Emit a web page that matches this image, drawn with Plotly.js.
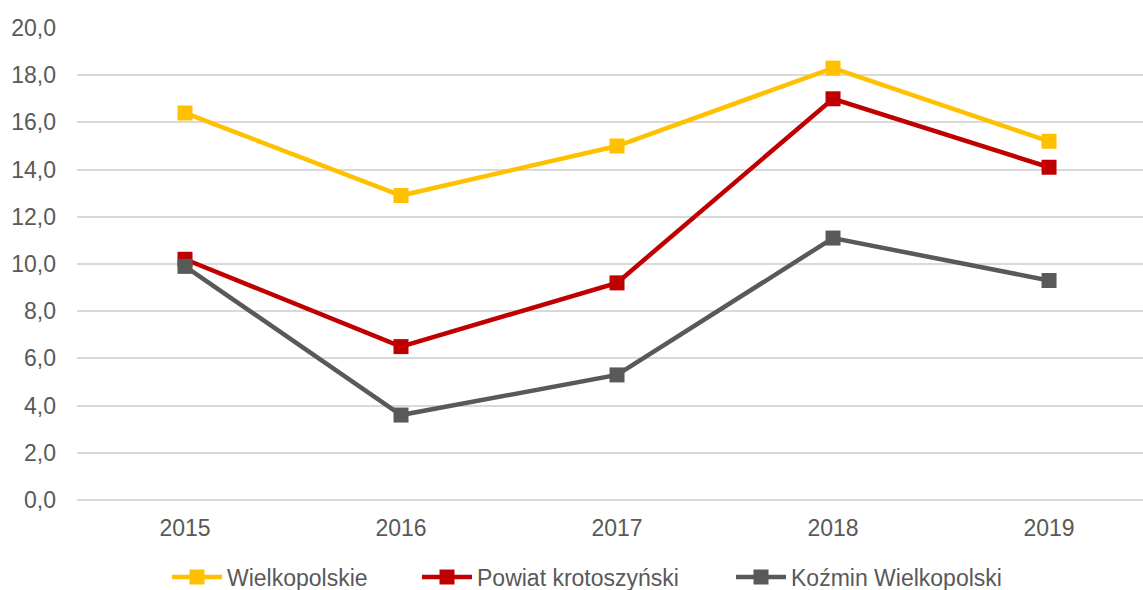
<!DOCTYPE html>
<html>
<head>
<meta charset="utf-8">
<script src="https://cdn.plot.ly/plotly-3.0.1.min.js"></script>
<style>html,body{margin:0;padding:0;overflow:hidden;background:#fff;}</style>
</head>
<body>
<div id="chart" style="width:1143px;height:590px;"></div>
<script>
const years = ["2015", "2016", "2017", "2018", "2019"];
const wielkopolskie = [16.4, 12.9, 15.0, 18.3, 15.2];
const powiat = [10.2, 6.5, 9.2, 17.0, 14.1];
const kozmin = [9.9, 3.6, 5.3, 11.1, 9.3];
const seriesNames = ["Wielkopolskie", "Powiat krotoszyński", "Koźmin Wielkopolski"];
const colors = ["#FFC000", "#C00000", "#595959"];
const values = [wielkopolskie, powiat, kozmin];
const legendIds = ["legend", "legend2", "legend3"];

const traces = values.map((v, i) => ({
  x: years, y: v, name: seriesNames[i], type: "scatter", mode: "lines+markers",
  line: {color: colors[i], width: 4.5},
  marker: {symbol: "square", size: 15, color: colors[i]},
  legend: legendIds[i],
  hoverinfo: "skip"
}));

function legendAt(px) {
  return {
    orientation: "h", xref: "container", yref: "container",
    x: px / 1143, xanchor: "left", y: 0.022, yanchor: "middle",
    font: {size: 23, color: "#595959"}, itemwidth: 50, bgcolor: "rgba(0,0,0,0)"
  };
}

const layout = {
  width: 1143, height: 590,
  margin: {l: 77, r: 0, t: 28, b: 90},
  paper_bgcolor: "#fff", plot_bgcolor: "#fff",
  separators: ",.",
  font: {family: "Liberation Sans, Arial, sans-serif", size: 23, color: "#595959"},
  xaxis: {
    type: "category", range: [-0.5, 4.435],
    showgrid: false, zeroline: false, showline: false,
    ticks: "", ticklabelstandoff: 12, tickfont: {size: 23, color: "#595959"}
  },
  yaxis: {
    range: [0, 20], dtick: 2, tickformat: ".1f",
    showgrid: true, gridcolor: "#D9D9D9", gridwidth: 2,
    zeroline: true, zerolinecolor: "#D9D9D9", zerolinewidth: 2,
    showline: false, ticks: "", ticklabelstandoff: 20,
    tickfont: {size: 23, color: "#595959"}
  },
  showlegend: true,
  legend: legendAt(167),
  legend2: legendAt(417),
  legend3: legendAt(731)
};

Plotly.newPlot("chart", traces, layout, {staticPlot: true, displayModeBar: false});
</script>
</body>
</html>
